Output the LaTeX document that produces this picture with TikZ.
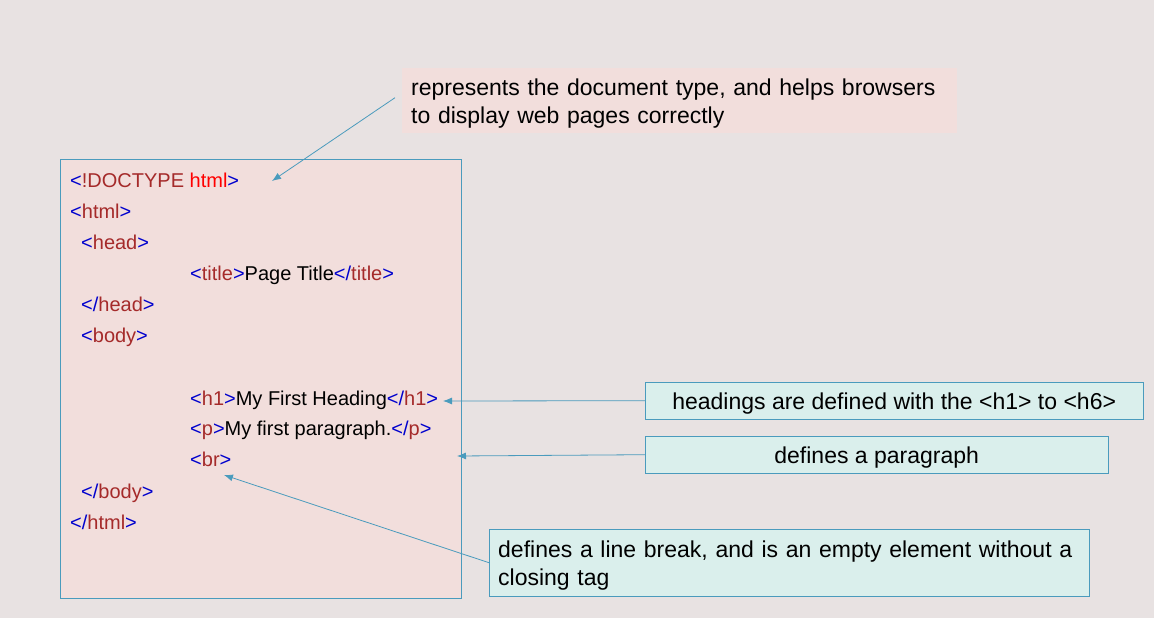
\documentclass[tikz,border=0pt]{standalone}
\usepackage{fontspec}
\setmainfont{Liberation Sans}
\usetikzlibrary{arrows.meta,positioning}
\definecolor{bgcol}{HTML}{E8E2E2}
\definecolor{codepink}{HTML}{F2DEDC}
\definecolor{notegreen}{HTML}{DAEFEC}
\definecolor{edgeblue}{HTML}{4A9BBD}
\definecolor{tagblue}{HTML}{0000CD}
\definecolor{tagred}{HTML}{A52A2A}
\newcommand\tagopen[1]{\textcolor{tagblue}{<}\textcolor{tagred}{#1}\textcolor{tagblue}{>}}
\newcommand\tagclose[1]{\textcolor{tagblue}{</}\textcolor{tagred}{#1}\textcolor{tagblue}{>}}
\tikzset{
    %Define standard arrow tip
    >={Latex[length=9pt,width=7pt]},
    %Define style for boxes
    codebox/.style={
           rectangle,
           draw=edgeblue,
           fill=codepink,
           minimum width=401pt,
           minimum height=439pt,
           anchor=north west,
           },
    notebox/.style={
           rectangle,
           draw=edgeblue,
           fill=notegreen,
           anchor=north west,
           font=\fontsize{23}{28}\selectfont,
           inner sep=9pt,
           },
    oneline/.style={
           notebox,
           text depth=0pt,
           minimum height=37pt,
           },
    twoline/.style={
           notebox,
           inner ysep=0pt,
           text height=22pt,
           align=left,
           },
    codeline/.style={
           anchor=base west,
           inner sep=0pt,
           font=\fontsize{20}{24}\selectfont,
           },
    % Define arrow style
    pil/.style={
           ->,
           draw=edgeblue,
           line width=0.8pt,},
}
\begin{document}
\begin{tikzpicture}[x=1pt,y=-1pt]
\fill[bgcol] (0,0) rectangle (1154,618);
\useasboundingbox (0,0) rectangle (1154,618);
% code box and its lines
\node[codebox](code) at (60,159){};
\node[codeline](l1) at (70,187){\textcolor{tagblue}{<}\textcolor{tagred}{!DOCTYPE} \textcolor{red}{html}\textcolor{tagblue}{>}};
\node[codeline](l2) at (70,218){\tagopen{html}};
\node[codeline](l3) at (81,249){\tagopen{head}};
\node[codeline](l4) at (190,280){\tagopen{title}Page Title\tagclose{title}};
\node[codeline](l5) at (81,311){\tagclose{head}};
\node[codeline](l6) at (81,342){\tagopen{body}};
\node[codeline](l7) at (190,405){\tagopen{h1}My First Heading\tagclose{h1}};
\node[codeline](l8) at (190,435){\tagopen{p}My first paragraph.\tagclose{p}};
\node[codeline](l9) at (190,466){\tagopen{br}};
\node[codeline](l10) at (81,498){\tagclose{body}};
\node[codeline](l11) at (70,529){\tagclose{html}};
% notes
\node[twoline, draw=none, fill=codepink, minimum width=555pt, minimum height=65pt, text width=537pt](docnote) at (402,68){represents the document type, and helps browsers\\to display web pages correctly};
\node[oneline, minimum width=498pt](hnote) at (645,382){headings are defined with the <h1> to <h6>};
\node[oneline, minimum width=463pt](pnote) at (645,436){defines a paragraph};
\node[twoline, minimum width=600pt, minimum height=67pt, text width=582pt](brnote) at (489,529){defines a line break, and is an empty element without a\\closing tag};
% pointer ends
\coordinate (docend) at (272,181);
\coordinate (hend) at (443,401);
\coordinate (pend) at (457,456);
\coordinate (brend) at (224,475);
\draw[pil] ([xshift=-7pt,yshift=3pt]docnote.west) -- (docend);
\draw[pil] (hnote.west) -- (hend);
\draw[pil] (pnote.west) -- (pend);
\draw[pil] (brnote.west) -- (brend);
\end{tikzpicture}
\end{document}
